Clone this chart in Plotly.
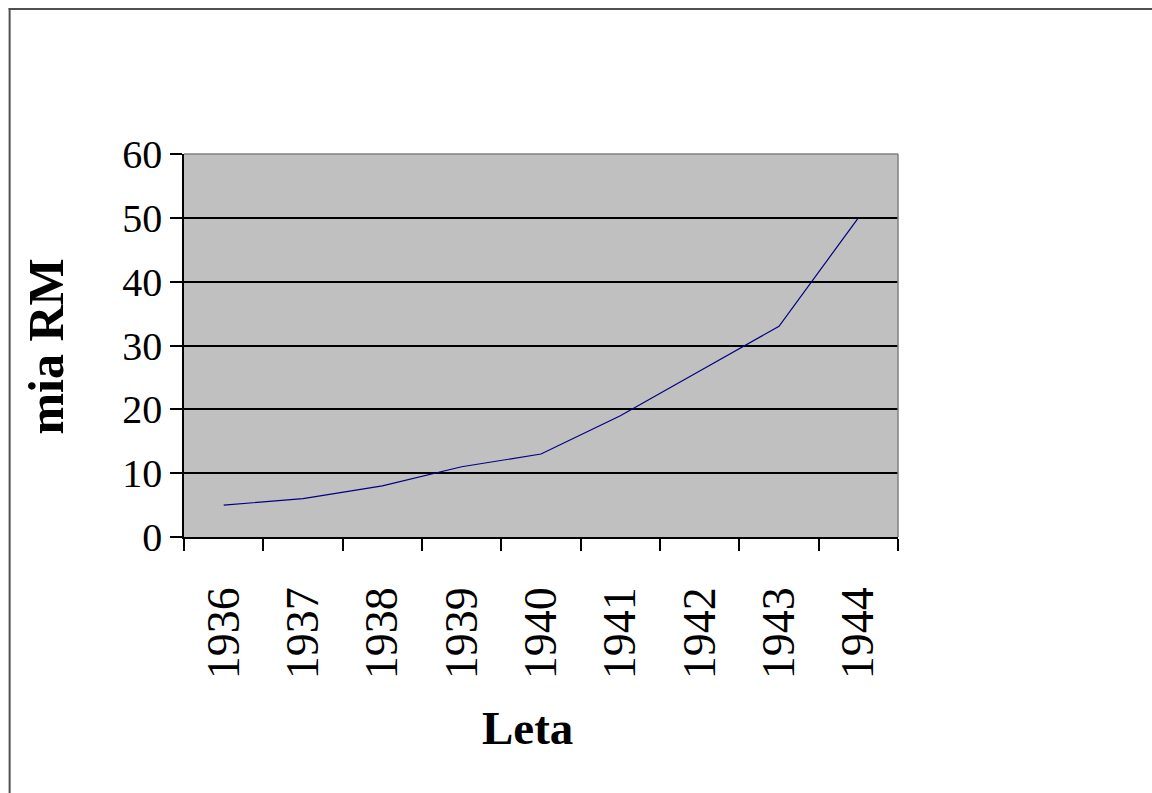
import plotly.graph_objects as go

# Annual values, billions of Reichsmark
years = ["1936", "1937", "1938", "1939", "1940", "1941", "1942", "1943", "1944"]
values = [5, 6, 8, 11, 13, 19, 26, 33, 50]
y_ticks = [0, 10, 20, 30, 40, 50, 60]

W, H = 1152, 793
L, R, T, B = 183.5, 898, 154, 537  # plot-area edges in pixels

serif = "Liberation Serif"

fig = go.Figure()
fig.add_trace(go.Scatter(
    x=years, y=values, mode="lines",
    line=dict(color="#000080", width=1.2),
    showlegend=False, hoverinfo="skip",
))

fig.update_layout(
    width=W, height=H,
    margin=dict(l=L, r=W - R, t=T, b=H - B, pad=0),
    paper_bgcolor="white",
    plot_bgcolor="#c0c0c0",
    font=dict(family=serif, color="black"),
    xaxis=dict(
        type="category", range=[-0.5, len(years) - 0.5],
        tickson="boundaries", ticks="outside", ticklen=12, tickwidth=1.5,
        tickcolor="black", showline=True, linecolor="black", linewidth=1.5,
        showgrid=False, tickangle=-90, ticklabelstandoff=30,
        tickfont=dict(family=serif, size=46, color="black"),
    ),
    yaxis=dict(
        range=[0, 60], tickvals=y_ticks, ticks="outside", ticklen=12,
        tickwidth=1.5, tickcolor="black", showline=True, linecolor="black",
        linewidth=1.5, showgrid=True, gridcolor="black", gridwidth=1.5,
        zeroline=False, ticklabelstandoff=0,
        tickfont=dict(family=serif, size=40, color="black"),
    ),
)

# grey top and right edges of the plot area
fig.add_shape(type="line", xref="paper", yref="paper", x0=0, x1=1, y0=1, y1=1,
              line=dict(color="#808080", width=1.5))
fig.add_shape(type="line", xref="paper", yref="paper", x0=1, x1=1, y0=0, y1=1,
              line=dict(color="#808080", width=1.5))

# outer frame (left and top edges)
def px_x(px):
    return (px - L) / (R - L)

def px_y(py):
    return (B - py) / (B - T)

fig.add_shape(type="line", xref="paper", yref="paper",
              x0=px_x(9), x1=px_x(9), y0=px_y(8), y1=px_y(H + 10),
              line=dict(color="#505050", width=2))
fig.add_shape(type="line", xref="paper", yref="paper",
              x0=px_x(8), x1=px_x(W + 10), y0=px_y(9), y1=px_y(9),
              line=dict(color="#505050", width=2))

# axis titles
fig.add_annotation(text="<b>mia RM</b>", xref="paper", yref="paper",
                   x=px_x(45), y=px_y(347), showarrow=False, textangle=-90,
                   font=dict(family=serif, size=50, color="black"),
                   xanchor="center", yanchor="middle")
fig.add_annotation(text="<b>Leta</b>", xref="paper", yref="paper",
                   x=px_x(527), y=px_y(728), showarrow=False,
                   font=dict(family=serif, size=47, color="black"),
                   xanchor="center", yanchor="middle")

fig.write_html("out.html")
